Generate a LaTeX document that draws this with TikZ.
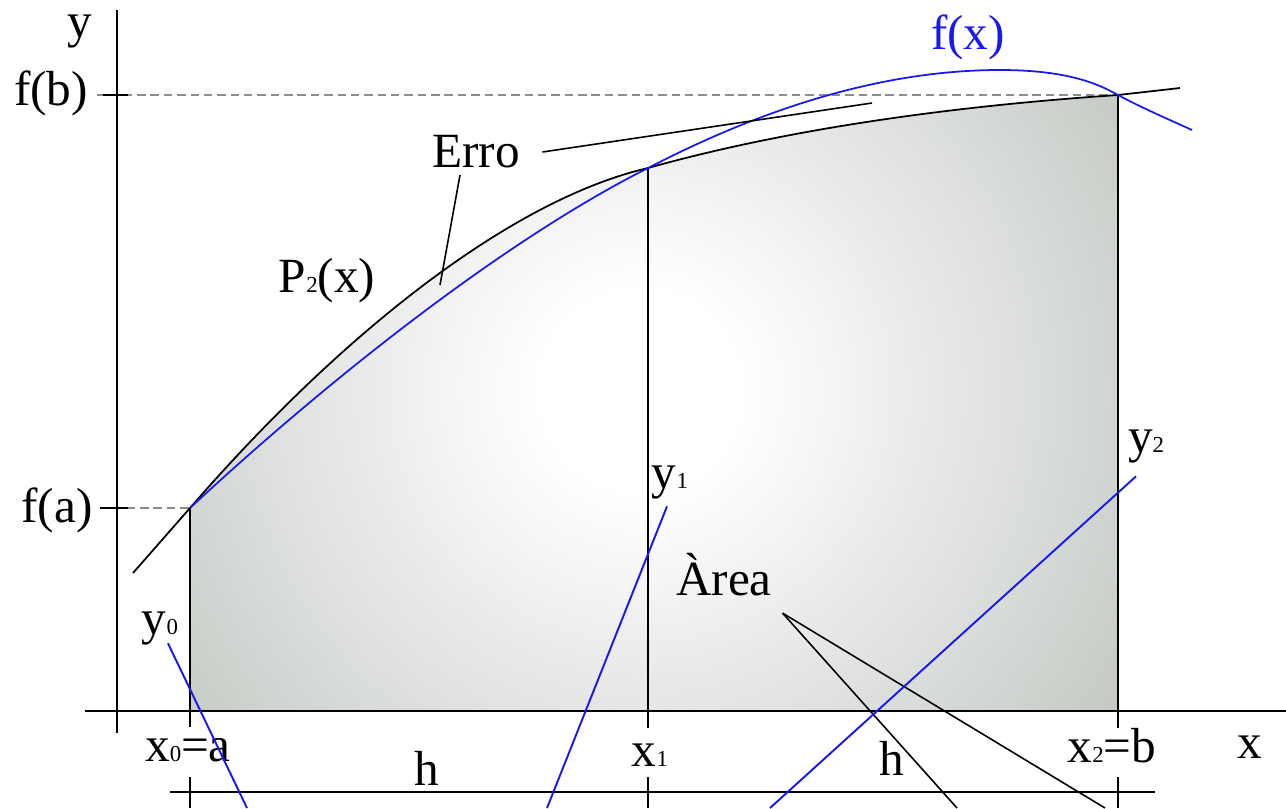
\documentclass[tikz,border=0pt]{standalone}
\usepackage{fontspec}
\setmainfont{Liberation Serif}
\definecolor{areagray}{RGB}{164,172,164}
\definecolor{curveblue}{RGB}{25,25,235}
\definecolor{guidegray}{RGB}{140,140,140}
\pgfdeclareradialshading{areashade}{\pgfpoint{0bp}{0bp}}{color(0bp)=(white); color(4bp)=(white);
  color(19bp)=(areagray!50!white); color(33bp)=(areagray); color(50bp)=(areagray)}
\newcommand{\lowdig}[1]{{\fontsize{6.5}{7}\selectfont #1}}

\begin{document}
\begin{tikzpicture}[x=0.01cm, y=-0.01cm,
  % labels
  lbl/.style={font=\fontsize{14}{16}\selectfont, inner sep=0pt},
  % lines
  axis/.style={line width=0.7pt},
  guide/.style={guidegray, line width=0.5pt, dash pattern=on 2.4pt off 1.4pt},
  pcurve/.style={line width=0.5pt},
  fcurve/.style={curveblue, line width=0.5pt},
  ptr/.style={line width=0.45pt},
  bptr/.style={curveblue, line width=0.55pt},
]
\useasboundingbox (0,0) rectangle (1286,808);

% -- area under P2 -----------------------------------------
\begin{scope}
  \clip (190,711) -- (190,508) .. controls (340,335) and (510,200) .. (648,168)
    .. controls (798,126) and (968,105) .. (1118,95) -- (1118,711) -- cycle;
  \shade[shading=areashade] (640,390) ellipse (620 and 620);
\end{scope}

% -- guides and axes ----------------------------------------
\draw[guide] (97,95) -- (1118,95);
\draw[guide] (100,508) -- (190,508);
\draw[axis] (117,10) -- (117,733);
\draw[axis] (85,711) -- (1286,711);
\draw[axis] (103,95) -- (128,95);
\draw[axis] (100,508) -- (128,508);
\draw[axis] (190,508) -- (190,727);
\draw[axis] (648,168) -- (648,728);
\draw[axis] (1118,95) -- (1118,728);
% h
\draw[axis] (170,792) -- (1155,792);
\foreach \xx in {190,648,1118}
  \draw[axis] (\xx,777) -- (\xx,808);

% -- curves ---------------------------------------------------
\draw[pcurve] (133,573) -- (190,508) .. controls (340,335) and (510,200) .. (648,168)
  .. controls (798,126) and (968,105) .. (1118,95) -- (1180,88);
\draw[fcurve] (190,508) .. controls (330,378) and (505,240) .. (648,168)
  .. controls (760,110) and (880,70) .. (1000,70)
  .. controls (1070,70) and (1100,85) .. (1118,95)
  .. controls (1140,107) and (1170,120) .. (1192,130);

% -- labels ---------------------------------------------------
\node[lbl] (ylbl) at (80,32) {y};
\node[lbl] (fblbl) at (51,93) {f(b)};
\node[lbl] (falbl) at (57,510) {f(a)};
\node[lbl] (xlbl) at (1250,747) {x};
\node[lbl] (x0lbl) at (188,750) {x\lowdig{0}=a};
\node[lbl] (x1lbl) at (650,755) {x\lowdig{1}};
\node[lbl] (x2lbl) at (1112,746) {x\lowdig{2}=b};
\node[lbl] (hleft) at (427,768) {h};
\node[lbl] (hright) at (892,758) {h};
\node[lbl] (y0lbl) at (160,628) {y\lowdig{0}};
\node[lbl] (y1lbl) at (670,482) {y\lowdig{1}};
\node[lbl] (y2lbl) at (1146,446) {y\lowdig{2}};
\node[lbl] (arealbl) at (724,575) {Àrea};
\node[lbl] (errolbl) at (476,152) {Erro};
\node[lbl] (p2lbl) at (327,281) {P\lowdig{2}(x)};
\node[lbl, text=curveblue] (fxlbl) at (968,37) {f(x)};

% -- pointers -------------------------------------------------
\coordinate (erroend) at (872,103);
\coordinate (errotip) at (440,285);
\coordinate (areatip) at ([shift={(10,16)}]arealbl.south east);
\coordinate (areaendA) at (957,808);
\coordinate (areaendB) at (1105,808);
\coordinate (y0end) at (247,808);
\coordinate (y1end) at (547,808);
\coordinate (y2end) at (770,808);

\draw[ptr] ([shift={(22,0)}]errolbl.east) -- (erroend);
\draw[ptr] ([shift={(-16,6)}]errolbl.south) -- (errotip);
\draw[ptr] (areatip) -- (areaendA);
\draw[ptr] (areatip) -- (areaendB);
\draw[bptr] ([shift={(8,-2)}]y0lbl.south) -- (y0end);
\draw[bptr] ([shift={(-3,7)}]y1lbl.south) -- (y1end);
\draw[bptr] ([shift={(-10,13)}]y2lbl.south) -- (y2end);

\end{tikzpicture}
\end{document}
